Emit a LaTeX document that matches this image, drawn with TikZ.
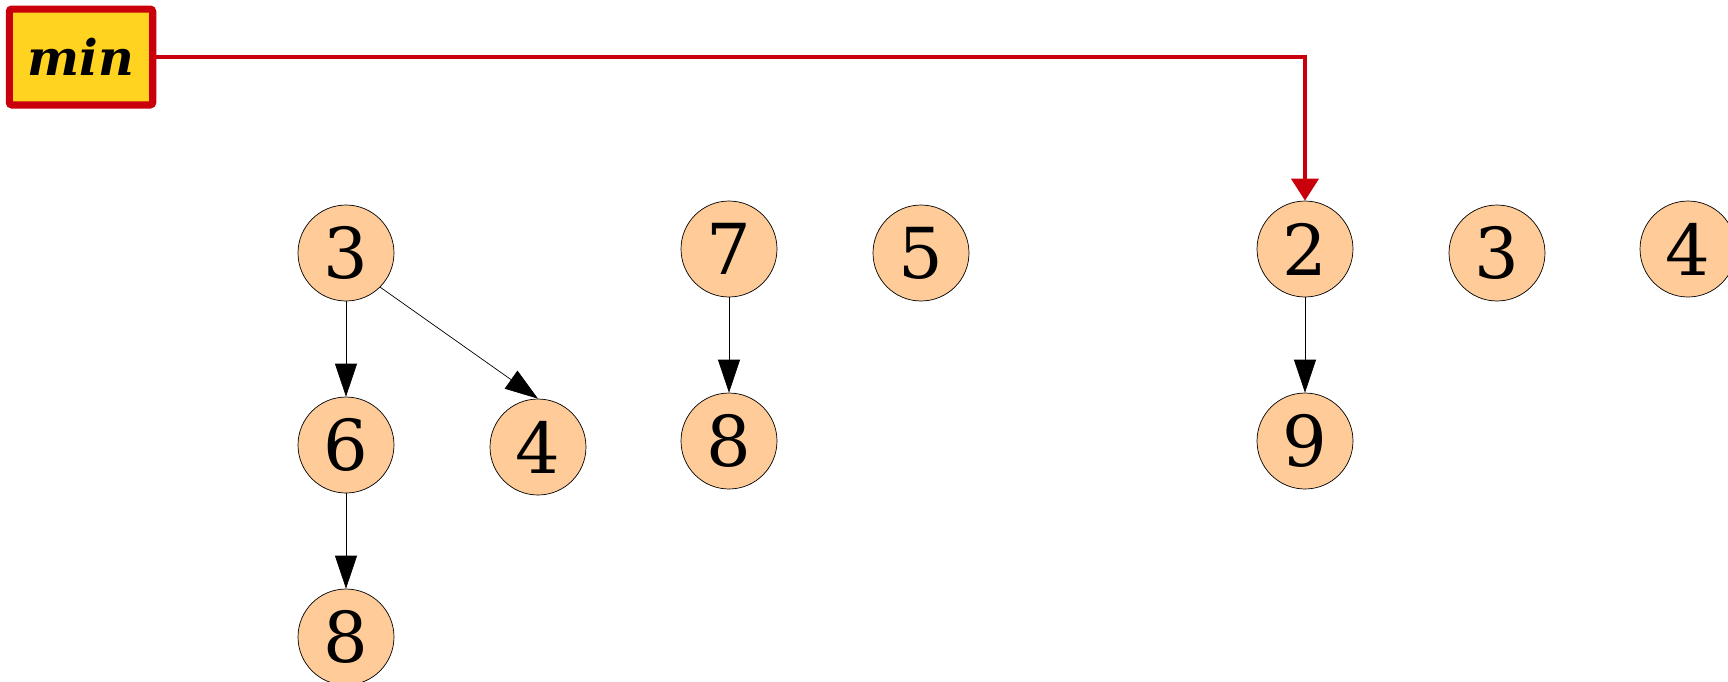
\documentclass[tikz,border=0pt]{standalone}
\usepackage{fontspec}
\setmainfont{DejaVu Serif}
\usetikzlibrary{arrows.meta}
\definecolor{peach}{HTML}{FFCC99}
\definecolor{gold}{HTML}{FFD320}
\definecolor{minred}{HTML}{C9000B}

\begin{document}
\begin{tikzpicture}[
    x=0.02cm, y=-0.02cm,
    key/.style={circle, draw, fill=peach, minimum size=1.92cm, inner sep=0pt, line width=0.4pt, font=\fontsize{40}{40}\selectfont},
    minbox/.style={draw=minred, fill=gold, line width=4pt, rounded corners=1.5pt, minimum width=2.87cm, minimum height=1.92cm, inner sep=0pt, font=\fontsize{28}{28}\selectfont\bfseries\itshape},
    link/.style={-{Triangle[length=0.66cm, width=0.44cm]}, line width=0.4pt},
    minlink/.style={-{Triangle[length=0.44cm, width=0.54cm]}, draw=minred, line width=2.3pt}
]
\useasboundingbox (0,0) rectangle (1728,681);

% Pointer to the smallest root
\node[minbox] (min) at (81,57) {min};

% --- first tree ---
\node[key] (a1) at (346,253) {3};
\node[key] (a2) at (346,445) {6};
\node[key] (a3) at (538,447) {4};
\node[key] (a4) at (346,637) {8};

\draw[link] (a1) -- (a2);
\draw[link] (a1.-45) -- (a3.north);
\draw[link] (a2) -- (a4);

% --- second tree ---
\node[key] (b1) at (729,249) {7};
\node[key] (b2) at (729,441) {8};

\draw[link] (b1) -- (b2);

% --- single roots and third tree ---
\node[key] (c1) at (921,253) {5};

\node[key] (d1) at (1305,249) {2};
\node[key] (d2) at (1305,441) {9};

\draw[link] (d1) -- (d2);

\node[key] (e1) at (1497,253) {3};
\node[key] (f1) at (1688,249) {4};

\draw[minlink] (min.east) -| (d1.north);

\end{tikzpicture}
\end{document}
